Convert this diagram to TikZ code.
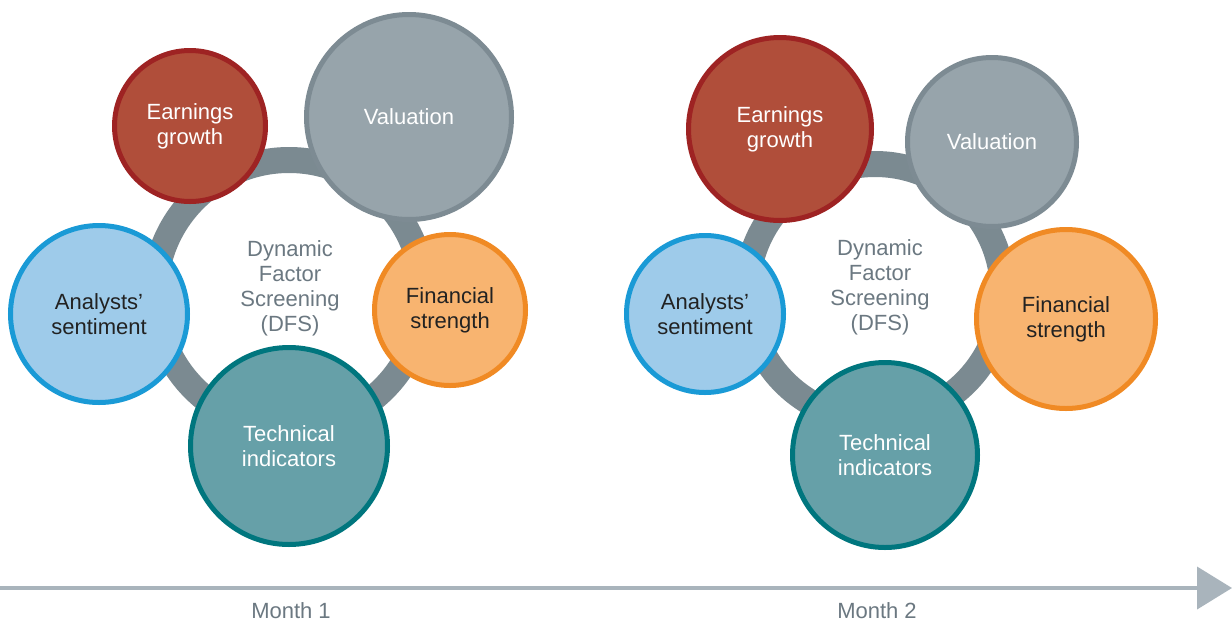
\documentclass[tikz,border=0pt]{standalone}
\usepackage{fontspec}
\setmainfont{Liberation Sans}
\usetikzlibrary{arrows.meta}

\definecolor{earnfill}{HTML}{B04E3A}
\definecolor{earnline}{HTML}{9E2323}
\definecolor{valufill}{HTML}{97A4AB}
\definecolor{valuline}{HTML}{7D8B93}
\definecolor{analfill}{HTML}{9ECBEA}
\definecolor{analline}{HTML}{1A9AD6}
\definecolor{finfill}{HTML}{F8B470}
\definecolor{finline}{HTML}{F08A24}
\definecolor{techfill}{HTML}{66A0A8}
\definecolor{techline}{HTML}{00767E}
\definecolor{ringgray}{HTML}{7B8A91}
\definecolor{hubtext}{HTML}{6B7881}
\definecolor{axisgray}{HTML}{A9B4BC}
\definecolor{darktext}{HTML}{222222}

\begin{document}
\begin{tikzpicture}[x=1pt, y=-1pt,
  factor/.style={circle, line width=5pt, inner sep=0pt, align=center,
    font=\fontsize{22}{25}\selectfont},
  earn/.style={factor, draw=earnline, fill=earnfill, text=white},
  valu/.style={factor, draw=valuline, fill=valufill, text=white},
  anal/.style={factor, draw=analline, fill=analfill, text=darktext},
  fin/.style={factor, draw=finline, fill=finfill, text=darktext},
  tech/.style={factor, draw=techline, fill=techfill, text=white},
  ring/.style={circle, draw=ringgray, line width=26pt, inner sep=0pt},
  hub/.style={align=center, text=hubtext, inner sep=0pt,
    font=\fontsize{22}{25}\selectfont},
  month/.style={text=hubtext, inner sep=0pt, font=\fontsize{22}{25}\selectfont},
  axisline/.style={draw=axisgray, line width=4pt,
    -{Triangle[length=35pt, width=42pt]}},
]
\useasboundingbox (0,0) rectangle (1232,622);
\fill[white] (0,0) rectangle (1232,622);

% first month
\node[ring, minimum size=268pt] (ringL) at (289,294) {};
\node[hub] (hubL) at (290,288) {Dynamic\\Factor\\Screening\\(DFS)};
\node[earn, minimum size=151pt] (earnL) at (190,126) {Earnings\\growth};
\node[valu, minimum size=205pt] (valuL) at (409,117) {Valuation};
\node[anal, minimum size=177pt] (analL) at (99,314) {Analysts’\\sentiment};
\node[fin, minimum size=151pt] (finL) at (450,310) {Financial\\strength};
\node[tech, minimum size=197pt] (techL) at (289,446) {Technical\\indicators};

% second month
\node[ring, minimum size=256pt] (ringR) at (875,292) {};
\node[hub] (hubR) at (880,287) {Dynamic\\Factor\\Screening\\(DFS)};
\node[earn, minimum size=183pt] (earnR) at (780,129) {Earnings\\growth};
\node[valu, minimum size=169pt] (valuR) at (992,142) {Valuation};
\node[anal, minimum size=157pt] (analR) at (705,314) {Analysts’\\sentiment};
\node[fin, minimum size=179pt] (finR) at (1066,319) {Financial\\strength};
\node[tech, minimum size=185pt] (techR) at (885,455) {Technical\\indicators};

% time axis
\coordinate (axstart) at (0,588);
\coordinate (axend) at (1232,588);
\draw[axisline] (axstart) -- (axend);
\node[month] (month1) at (291,611) {Month 1};
\node[month] (month2) at (877,611) {Month 2};
\end{tikzpicture}
\end{document}
